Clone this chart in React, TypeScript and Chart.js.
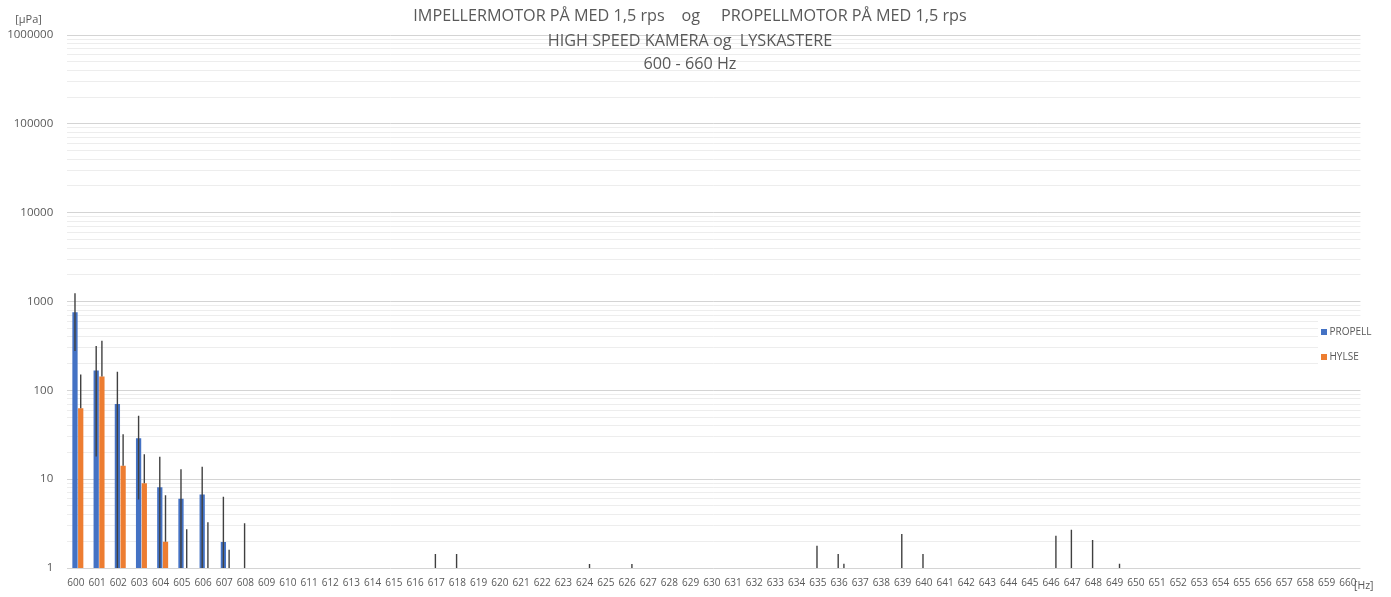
import { useEffect, useRef } from 'react';
import { Chart, registerables } from 'chart.js';

Chart.register(...registerables);

const categories = [
  '600', '601', '602', '603', '604', '605', '606', '607', '608', '609',
  '610', '611', '612', '613', '614', '615', '616', '617', '618', '619',
  '620', '621', '622', '623', '624', '625', '626', '627', '628', '629',
  '630', '631', '632', '633', '634', '635', '636', '637', '638', '639',
  '640', '641', '642', '643', '644', '645', '646', '647', '648', '649',
  '650', '651', '652', '653', '654', '655', '656', '657', '658', '659',
  '660',
];

// PROPELL: mean values and symmetric error (±)
const propellMean = [
  759, 167, 70, 28.9, 8.1, 6.0, 6.7, 1.96, 0, 0,
  0, 0, 0, 0, 0, 0, 0, 0, 0, 0,
  0, 0, 0, 0, 0, 0, 0, 0, 0, 0,
  0, 0, 0, 0, 0, 0, 0, 0, 0, 0,
  0, 0, 0, 0, 0, 0, 0, 0, 0, 0,
  0, 0, 0, 0, 0, 0, 0, 0, 0, 0,
  0,
];
const propellErr = [
  482, 149, 92, 23, 9.8, 6.9, 7.1, 4.4, 3.2, 0,
  0, 0, 0, 0, 0, 0, 0, 1.44, 1.44, 0,
  0, 0, 0, 0, 0, 0, 0, 0, 0, 0,
  0, 0, 0, 0, 0, 1.78, 1.44, 0, 0, 2.41,
  1.44, 0, 0, 0, 0, 0, 0, 2.7, 2.07, 0,
  0, 0, 0, 0, 0, 0, 0, 0, 0, 0,
  0,
];

// HYLSE: mean values and plus-direction error
const hylseMean = [
  62.9, 142.7, 14.2, 9.0, 1.98, 0, 0, 0, 0, 0,
  0, 0, 0, 0, 0, 0, 0, 0, 0, 0,
  0, 0, 0, 0, 0, 0, 0, 0, 0, 0,
  0, 0, 0, 0, 0, 0, 0, 0, 0, 0,
  0, 0, 0, 0, 0, 0, 0, 0, 0, 0,
  0, 0, 0, 0, 0, 0, 0, 0, 0, 0,
  0,
];
const hylseErr = [
  88, 220, 17.8, 10.1, 4.6, 2.73, 3.27, 1.61, 0, 0,
  0, 0, 0, 0, 0, 0, 0, 0, 0, 0,
  0, 0, 0, 0, 1.11, 0, 1.11, 0, 0, 0,
  0, 0, 0, 0, 0, 0, 1.12, 0, 0, 0,
  0, 0, 0, 0, 0, 0, 2.31, 0, 0, 1.12,
  0, 0, 0, 0, 0, 0, 0, 0, 0, 0,
  0,
];

const yTickLabels = [1, 10, 100, 1000, 10000, 100000, 1000000];
const minorMultipliers = [2, 3, 4, 5, 6, 7, 8, 9];

const titleLines = [
  'IMPELLERMOTOR PÅ MED 1,5 rps    og     PROPELLMOTOR PÅ MED 1,5 rps',
  'HIGH SPEED KAMERA og  LYSKASTERE',
  '600 - 660 Hz',
];
const seriesNames = ['PROPELL', 'HYLSE'];
const seriesColors = ['#4472C4', '#ED7D31'];
const yUnit = '[µPa]';
const xUnit = '[Hz]';

const FONT = '"Open Sans", "Liberation Sans", sans-serif';
const TEXT = '#595959';

const errorBarPlugin = {
  id: 'errorBars',
  afterDatasetsDraw(chart: any) {
    const ctx = chart.ctx;
    const y = chart.scales.y;
    const area = chart.chartArea;
    ctx.save();
    ctx.beginPath();
    ctx.rect(area.left, area.top, area.right - area.left, area.bottom - area.top);
    ctx.clip();
    ctx.strokeStyle = '#404040';
    ctx.lineWidth = 1.4;
    chart.data.datasets.forEach((ds: any, di: number) => {
      const meta = chart.getDatasetMeta(di);
      meta.data.forEach((el: any, j: number) => {
        const e = ds.errors[j];
        if (!e) return;
        const m = ds.data[j] || 0;
        const top = y.getPixelForValue(m + e);
        let bot;
        if (ds.plusOnly) {
          bot = m > 0 ? y.getPixelForValue(m) : area.bottom;
        } else {
          const low = m - e;
          bot = low > 0 ? y.getPixelForValue(low) : area.bottom;
        }
        ctx.beginPath();
        ctx.moveTo(el.x, top);
        ctx.lineTo(el.x, bot);
        ctx.stroke();
      });
    });
    ctx.restore();
  },
};

const textPlugin = {
  id: 'texts',
  afterDraw(chart: any) {
    const ctx = chart.ctx;
    ctx.save();
    // title
    ctx.fillStyle = TEXT;
    ctx.font = `16.2px ${FONT}`;
    ctx.textAlign = 'center';
    ctx.textBaseline = 'middle';
    const ty = [16, 41, 64];
    titleLines.forEach((t, i) => ctx.fillText(t, 690, ty[i]));
    // y unit
    ctx.font = `11px ${FONT}`;
    ctx.textAlign = 'center';
    ctx.fillText(yUnit, 28.5, 20);
    // x unit
    ctx.font = `10.5px ${FONT}`;
    ctx.textAlign = 'left';
    ctx.fillText(xUnit, 1354, 586);
    // legend
    ctx.fillStyle = '#ffffff';
    ctx.fillRect(1318, 321, 70, 48);
    const ly = [332, 357];
    seriesNames.forEach((n, i) => {
      ctx.fillStyle = seriesColors[i];
      ctx.fillRect(1321, ly[i] - 3, 6, 6);
      ctx.fillStyle = TEXT;
      ctx.font = `10px ${FONT}`;
      ctx.textAlign = 'left';
      ctx.textBaseline = 'middle';
      ctx.fillText(n, 1329.5, ly[i]);
    });
    ctx.restore();
  },
};

export default function App() {
  const ref = useRef<HTMLCanvasElement | null>(null);
  useEffect(() => {
    if (!ref.current) return;
    const yTicks: any[] = [];
    yTickLabels.forEach((v, i) => {
      yTicks.push({ value: v, major: true });
      if (i < yTickLabels.length - 1) {
        minorMultipliers.forEach((m) => yTicks.push({ value: m * v, major: false }));
      }
    });
    const chart = new Chart(ref.current, {
      type: 'bar',
      data: {
        labels: categories,
        datasets: [
          {
            label: seriesNames[0],
            data: propellMean,
            errors: propellErr,
            plusOnly: false,
            backgroundColor: seriesColors[0],
            categoryPercentage: 0.54,
            barPercentage: 0.92,
          } as any,
          {
            label: seriesNames[1],
            data: hylseMean,
            errors: hylseErr,
            plusOnly: true,
            backgroundColor: seriesColors[1],
            categoryPercentage: 0.54,
            barPercentage: 0.92,
          } as any,
        ],
      },
      options: {
        responsive: false,
        animation: false,
        layout: { padding: { left: 7.25, right: 30.55, top: 35, bottom: 0 } },
        plugins: {
          legend: { display: false },
          title: { display: false },
          tooltip: { enabled: false },
        },
        scales: {
          x: {
            grid: { display: false, drawTicks: false },
            border: { display: false },
            ticks: {
              autoSkip: false,
              maxRotation: 0,
              minRotation: 0,
              padding: 9.5,
              labelOffset: -2,
              color: TEXT,
              font: { family: FONT, size: 10 },
            },
            afterFit: (scale: any) => {
              scale.height = 29;
            },
          },
          y: {
            type: 'logarithmic',
            min: 1,
            max: 1000000,
            afterBuildTicks: (scale: any) => {
              scale.ticks = yTicks.map((t) => ({ ...t }));
            },
            afterFit: (scale: any) => {
              scale.width = 60;
            },
            border: { display: false },
            grid: {
              drawTicks: false,
              lineWidth: 1,
              color: (c: any) => (c.tick && c.tick.major ? '#d4d4d4' : '#ededed'),
            },
            ticks: {
              autoSkip: false,
              padding: 14,
              color: TEXT,
              font: { family: FONT, size: 11.5 },
              callback: (v: any) => (yTickLabels.includes(Number(v)) ? String(v) : ''),
            },
          },
        },
      } as any,
      plugins: [errorBarPlugin, textPlugin],
    });
    return () => chart.destroy();
  }, []);
  return (
    <div style={{ position: 'absolute', left: 0, top: 0, width: 1391, height: 597 }}>
      <canvas ref={ref} width={1391} height={597} />
    </div>
  );
}
